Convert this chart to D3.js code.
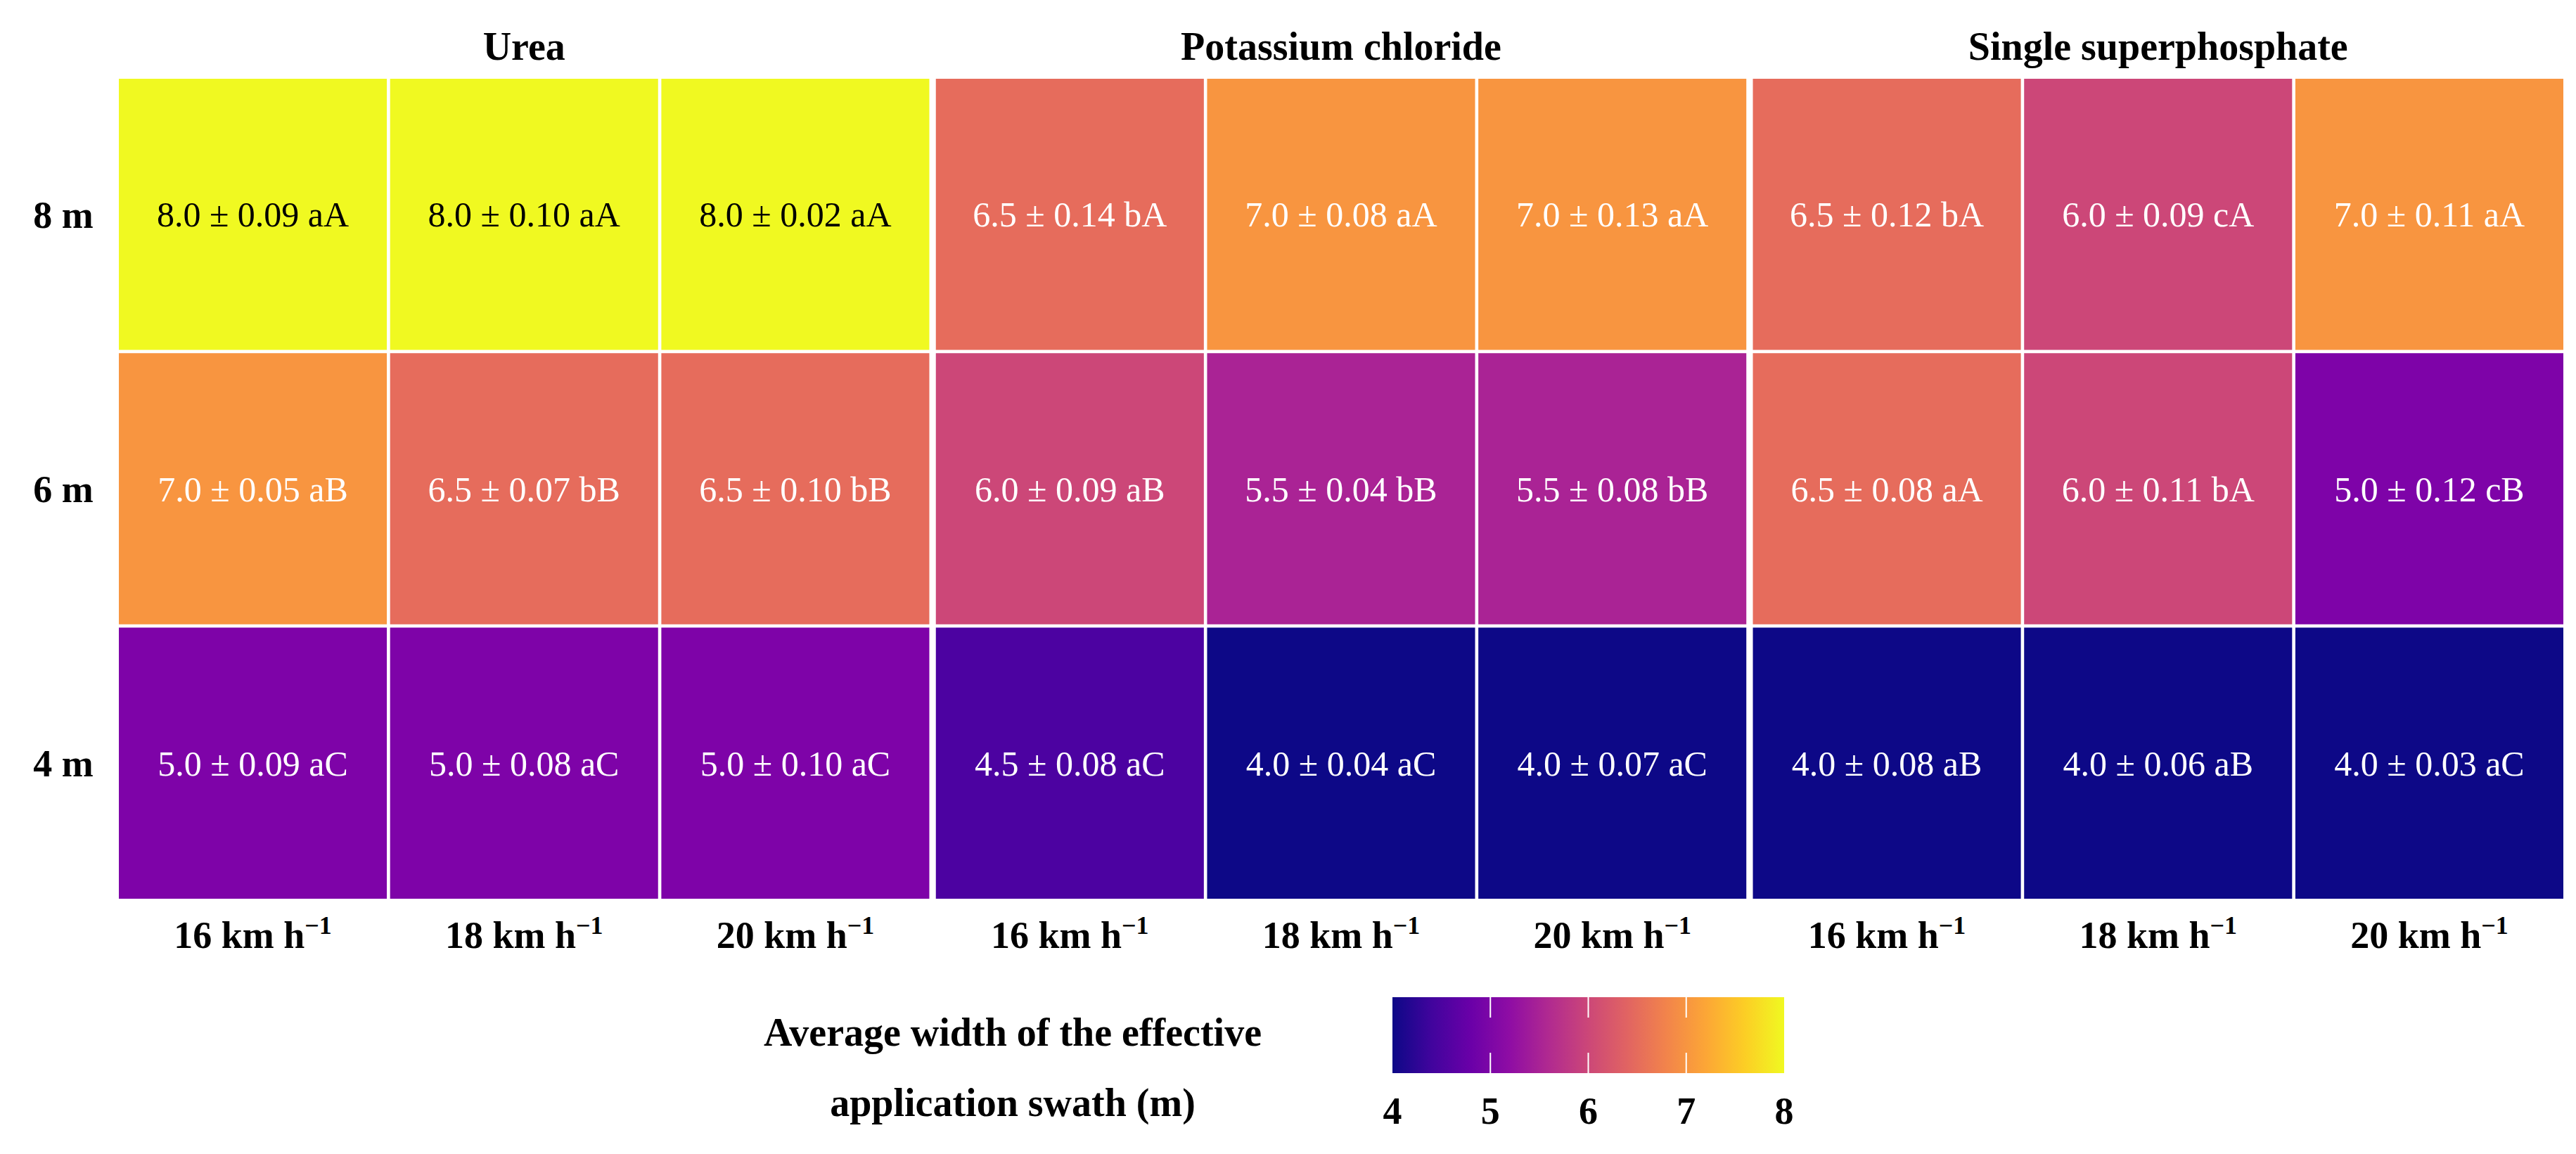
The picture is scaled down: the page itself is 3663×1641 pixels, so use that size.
<!DOCTYPE html>
<html><head><meta charset="utf-8">
<script src="https://cdn.jsdelivr.net/npm/d3@7"></script>
<style>body{margin:0;background:#fff}text{font-family:"Liberation Serif",serif}</style>
</head><body><div id="viz"></div>
<script>
var fertilizers = ['Urea', 'Potassium chloride', 'Single superphosphate'];
var speeds = ['16', '18', '20'];
var widths = ['8 m', '6 m', '4 m'];
// values[fertilizer][row][speed]
var means = [
  [[8.0, 8.0, 8.0], [7.0, 6.5, 6.5], [5.0, 5.0, 5.0]],
  [[6.5, 7.0, 7.0], [6.0, 5.5, 5.5], [4.5, 4.0, 4.0]],
  [[6.5, 6.0, 7.0], [6.5, 6.0, 5.0], [4.0, 4.0, 4.0]]
];
var errs = [
  [['0.09', '0.10', '0.02'], ['0.05', '0.07', '0.10'], ['0.09', '0.08', '0.10']],
  [['0.14', '0.08', '0.13'], ['0.09', '0.04', '0.08'], ['0.08', '0.04', '0.07']],
  [['0.12', '0.09', '0.11'], ['0.08', '0.11', '0.12'], ['0.08', '0.06', '0.03']]
];
var letters = [
  [['aA', 'aA', 'aA'], ['aB', 'bB', 'bB'], ['aC', 'aC', 'aC']],
  [['bA', 'aA', 'aA'], ['aB', 'bB', 'bB'], ['aC', 'aC', 'aC']],
  [['bA', 'cA', 'aA'], ['aA', 'bA', 'cB'], ['aB', 'aB', 'aC']]
];
var legendTicks = [4, 5, 6, 7, 8];

var W = 3663, H = 1641;
var svg = d3.select('#viz').append('svg').attr('width', W).attr('height', H);
var color = d3.scaleSequential(d3.interpolatePlasma).domain([4, 8]);

var gx = d3.scaleBand().domain(d3.range(3)).range([169, 3645]).paddingInner(0.008);
var cx = d3.scaleBand().domain(d3.range(3)).range([0, gx.bandwidth()]).paddingInner(0.012);
var y = d3.scaleBand().domain(widths).range([112, 1278]).paddingInner(0.012);

fertilizers.forEach(function (f, fi) {
  var g = svg.append('g').attr('transform', 'translate(' + gx(fi) + ',0)');
  g.append('text').attr('x', gx.bandwidth() / 2).attr('y', 85)
    .attr('text-anchor', 'middle').attr('font-weight', 'bold').attr('font-size', 56).text(f);
  widths.forEach(function (w, ri) {
    speeds.forEach(function (s, si) {
      var v = means[fi][ri][si];
      g.append('rect').attr('x', cx(si)).attr('y', y(w))
        .attr('width', cx.bandwidth()).attr('height', y.bandwidth())
        .attr('fill', color(v));
      g.append('text').attr('x', cx(si) + cx.bandwidth() / 2)
        .attr('y', y(w) + y.bandwidth() / 2).attr('dy', '0.35em')
        .attr('text-anchor', 'middle').attr('font-size', 50)
        .attr('fill', v >= 7.5 ? '#000' : '#fff')
        .text(v.toFixed(1) + ' \u00b1 ' + errs[fi][ri][si] + ' ' + letters[fi][ri][si]);
    });
  });
  speeds.forEach(function (s, si) {
    var t = g.append('text').attr('x', cx(si) + cx.bandwidth() / 2).attr('y', 1348)
      .attr('text-anchor', 'middle').attr('font-weight', 'bold').attr('font-size', 54);
    t.append('tspan').text(s + ' km h');
    t.append('tspan').attr('dy', -20).attr('font-size', 36).text('\u22121');
  });
});

widths.forEach(function (w) {
  svg.append('text').attr('x', 90).attr('y', y(w) + y.bandwidth() / 2).attr('dy', '0.35em')
    .attr('text-anchor', 'middle').attr('font-weight', 'bold').attr('font-size', 54).text(w);
});

// legend
var lx = d3.scaleLinear().domain([4, 8]).range([1980, 2537]);
var defs = svg.append('defs');
var grad = defs.append('linearGradient').attr('id', 'grad');
d3.range(0, 1.01, 0.1).forEach(function (t) {
  grad.append('stop').attr('offset', t).attr('stop-color', d3.interpolatePlasma(t));
});
svg.append('rect').attr('x', lx(4)).attr('y', 1418).attr('width', lx(8) - lx(4))
  .attr('height', 108).attr('fill', 'url(#grad)');
legendTicks.slice(1, -1).forEach(function (t) {
  svg.append('line').attr('x1', lx(t)).attr('x2', lx(t)).attr('y1', 1418).attr('y2', 1447)
    .attr('stroke', '#fff').attr('stroke-width', 2);
  svg.append('line').attr('x1', lx(t)).attr('x2', lx(t)).attr('y1', 1497).attr('y2', 1526)
    .attr('stroke', '#fff').attr('stroke-width', 2);
});
svg.selectAll('.lt').data(legendTicks).enter().append('text')
  .attr('x', function (d) { return lx(d); }).attr('y', 1598)
  .attr('text-anchor', 'middle').attr('font-weight', 'bold').attr('font-size', 54)
  .text(function (d) { return d; });
['Average width of the effective', 'application swath (m)'].forEach(function (l, i) {
  svg.append('text').attr('x', 1440).attr('y', 1487 + i * 100).attr('text-anchor', 'middle')
    .attr('font-weight', 'bold').attr('font-size', 56).text(l);
});
</script></body></html>
